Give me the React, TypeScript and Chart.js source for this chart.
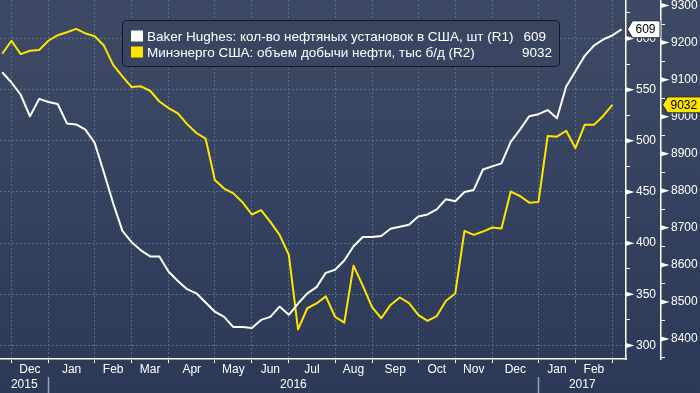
import React, { useEffect, useRef } from 'react';
import { Chart, registerables } from 'chart.js';

Chart.register(...registerables);

// Weekly data, index 0 = first week shown (late Nov 2015)
const rigCounts = [
  567, 557, 545, 524, 541, 538, 536, 517, 516, 511,
  498, 469, 439, 412, 401, 393, 387, 387, 372, 363,
  355, 351, 342, 333, 328, 318, 318, 317, 325, 328,
  338, 330, 341, 351, 357, 371, 374, 383, 397, 406,
  406, 407, 414, 416, 418, 426, 428, 433, 443, 441,
  450, 452, 472, 475, 478, 499, 511, 524, 526, 530,
  522, 553, 568, 583, 593, 599, 603, 609,
];

const oilOutput = [
  9170, 9205, 9169, 9178, 9180, 9205, 9220, 9228, 9237, 9225,
  9217, 9192, 9140, 9109, 9080, 9082, 9070, 9041, 9023, 9009,
  8980, 8956, 8941, 8829, 8806, 8793, 8769, 8736, 8748, 8716,
  8681, 8627, 8426, 8483, 8496, 8515, 8460, 8444, 8598, 8544,
  8486, 8456, 8492, 8512, 8497, 8465, 8449, 8462, 8503, 8523,
  8692, 8681, 8690, 8701, 8698, 8798, 8786, 8768, 8770, 8948,
  8946, 8962, 8915, 8978, 8978, 9002, 9032,
];

const monthBoundaries = [1, 5, 10, 14, 18, 23, 27, 31, 36, 40, 45, 49, 53, 58, 62, 66];
const monthLabels = ['Dec', 'Jan', 'Feb', 'Mar', 'Apr', 'May', 'Jun', 'Jul', 'Aug', 'Sep', 'Oct', 'Nov', 'Dec', 'Jan', 'Feb'];
const yearBoundaries = [5, 58];
const yearLabels = ['2015', '2016', '2017'];

const rigTickValues = [300, 350, 400, 450, 500, 550, 600];
const oilTickValues = [8400, 8500, 8600, 8700, 8800, 8900, 9000, 9100, 9200, 9300];

const seriesNames = [
  'Baker Hughes: кол-во нефтяных установок в США, шт (R1)',
  'Минэнерго США: объем добычи нефти, тыс б/д (R2)',
];

const X_MIN = -0.24;
const X_MAX = 67.47;
const R1_MIN = 286.8;
const R1_MAX = 637.6;
const R2_MIN = 8346;
const R2_MAX = 9315;

const WHITE = '#ffffff';
const YELLOW = '#ffe600';
const GRID = '#4f7186';
const FONT = "'Liberation Sans', Arial, sans-serif";
const CLEAR = 'rgba(0,0,0,0)';

const monthMids = monthBoundaries.slice(0, -1).map((b, i) => (b + monthBoundaries[i + 1]) / 2);
const yearEdges = [X_MIN, ...yearBoundaries, X_MAX];
const yearMids = yearLabels.map((_, i) => (yearEdges[i] + yearEdges[i + 1]) / 2);

const rigMinor = rigTickValues.map((v) => v + 25);
const oilMinor = [oilTickValues[0] - 50, ...oilTickValues.map((v) => v + 50)];

const zeroPad = (s: any) => {
  s.paddingLeft = 0;
  s.paddingRight = 0;
  s.paddingTop = 0;
  s.paddingBottom = 0;
};

const bgPlugin = {
  id: 'bgPlugin',
  beforeDraw(chart: any) {
    const { ctx, width, height } = chart;
    const g = ctx.createLinearGradient(0, 0, 0, height);
    g.addColorStop(0, '#3e4a65');
    g.addColorStop(0.5, '#35425f');
    g.addColorStop(1, '#2c3957');
    ctx.save();
    ctx.fillStyle = g;
    ctx.fillRect(0, 0, width, height);
    ctx.restore();
  },
};

const overlayPlugin = {
  id: 'overlayPlugin',
  afterDraw(chart: any) {
    const { ctx } = chart;
    const ys = chart.scales.y;
    const y2 = chart.scales.y2;
    ctx.save();
    // flags on axes
    ctx.fillStyle = WHITE;
    const flag = (x: number, y: number) => {
      ctx.beginPath();
      ctx.moveTo(x, y - 2.5);
      ctx.lineTo(x + 8.5, y);
      ctx.lineTo(x, y + 2.5);
      ctx.closePath();
      ctx.fill();
    };
    rigTickValues.forEach((v) => flag(ys.left, ys.getPixelForValue(v)));
    oilTickValues.forEach((v) => flag(y2.left, y2.getPixelForValue(v)));

    // legend box
    const lx = 122.5, ly = 20.5, lw = 437, lh = 46, r = 4;
    ctx.beginPath();
    ctx.moveTo(lx + r, ly);
    ctx.lineTo(lx + lw - r, ly);
    ctx.quadraticCurveTo(lx + lw, ly, lx + lw, ly + r);
    ctx.lineTo(lx + lw, ly + lh - r);
    ctx.quadraticCurveTo(lx + lw, ly + lh, lx + lw - r, ly + lh);
    ctx.lineTo(lx + r, ly + lh);
    ctx.quadraticCurveTo(lx, ly + lh, lx, ly + lh - r);
    ctx.lineTo(lx, ly + r);
    ctx.quadraticCurveTo(lx, ly, lx + r, ly);
    ctx.closePath();
    ctx.fillStyle = '#3a4661';
    ctx.fill();
    ctx.strokeStyle = '#121722';
    ctx.lineWidth = 1;
    ctx.stroke();

    const lastRig = rigCounts[rigCounts.length - 1];
    const lastOil = oilOutput[oilOutput.length - 1];
    const rows = [
      { color: WHITE, name: seriesNames[0], value: String(lastRig), y: 36.5, vx: 546 },
      { color: YELLOW, name: seriesNames[1], value: String(lastOil), y: 52.5, vx: 552 },
    ];
    ctx.font = `13.5px ${FONT}`;
    ctx.textBaseline = 'middle';
    rows.forEach((row) => {
      ctx.fillStyle = row.color;
      ctx.fillRect(131, row.y - 6, 12, 11);
      ctx.fillStyle = WHITE;
      ctx.textAlign = 'left';
      ctx.fillText(row.name, 147, row.y + 0.5);
      ctx.textAlign = 'right';
      ctx.fillText(row.value, row.vx, row.y + 0.5);
    });

    // last value badges
    const badge = (x: number, y: number, right: number, h: number, fill: string, text: string) => {
      ctx.beginPath();
      ctx.moveTo(x, y);
      ctx.lineTo(x + 5, y - h / 2);
      ctx.lineTo(right, y - h / 2);
      ctx.lineTo(right, y + h / 2);
      ctx.lineTo(x + 5, y + h / 2);
      ctx.closePath();
      ctx.fillStyle = fill;
      ctx.fill();
      ctx.strokeStyle = '#1b2233';
      ctx.lineWidth = 1;
      ctx.stroke();
      ctx.fillStyle = '#000000';
      ctx.font = `12px ${FONT}`;
      ctx.textAlign = 'left';
      ctx.textBaseline = 'middle';
      ctx.fillText(text, x + 8, y + 0.5);
    };
    badge(ys.left + 1.5, ys.getPixelForValue(lastRig), y2.left - 1, 17, WHITE, String(lastRig));
    badge(y2.left + 1.5, y2.getPixelForValue(lastOil), 702, 16, YELLOW, String(lastOil));
    ctx.restore();
  },
};

export default function App() {
  const ref = useRef<HTMLCanvasElement>(null);

  useEffect(() => {
    document.body.style.margin = '0';
    Chart.defaults.font.family = FONT;
    Chart.defaults.font.size = 12;
    Chart.defaults.color = WHITE;

    const chart = new Chart(ref.current as HTMLCanvasElement, {
      type: 'line',
      data: {
        datasets: [
          {
            label: seriesNames[0],
            data: rigCounts.map((v, i) => ({ x: i, y: v })),
            yAxisID: 'y',
            xAxisID: 'x',
            borderColor: WHITE,
            borderWidth: 2,
            pointRadius: 0,
            tension: 0,
            borderJoinStyle: 'round',
          },
          {
            label: seriesNames[1],
            data: oilOutput.map((v, i) => ({ x: i, y: v })),
            yAxisID: 'y2',
            xAxisID: 'x',
            borderColor: YELLOW,
            borderWidth: 2,
            pointRadius: 0,
            tension: 0,
            borderJoinStyle: 'round',
          },
        ],
      },
      options: {
        responsive: false,
        animation: false,
        devicePixelRatio: 1,
        layout: { padding: 0 },
        plugins: { legend: { display: false }, tooltip: { enabled: false } },
        scales: {
          x: {
            type: 'linear',
            position: 'bottom',
            min: X_MIN,
            max: X_MAX,
            afterBuildTicks: (s: any) => {
              s.ticks = [...monthBoundaries, ...monthMids]
                .sort((a, b) => a - b)
                .map((v) => ({ value: v }));
            },
            afterFit: (s: any) => {
              s.height = 18;
              zeroPad(s);
            },
            ticks: {
              autoSkip: false,
              maxRotation: 0,
              minRotation: 0,
              padding: -1,
              color: WHITE,
              font: { size: 12, family: FONT },
              callback: (value: any) => {
                const i = monthMids.indexOf(Number(value));
                return i >= 0 ? monthLabels[i] : '';
              },
            },
            grid: {
              color: (c: any) => (c.tick && monthBoundaries.includes(c.tick.value) ? GRID : CLEAR),
              tickColor: (c: any) => (c.tick && monthBoundaries.includes(c.tick.value) ? WHITE : CLEAR),
              tickLength: 4,
              tickWidth: 1,
              tickBorderDash: [],
              lineWidth: 1,
            },
            border: { display: true, color: WHITE, width: 1.5, dash: [2, 2] },
          },
          x2: {
            type: 'linear',
            position: 'bottom',
            min: X_MIN,
            max: X_MAX,
            afterBuildTicks: (s: any) => {
              s.ticks = [...yearBoundaries, ...yearMids]
                .sort((a, b) => a - b)
                .map((v) => ({ value: v }));
            },
            afterFit: (s: any) => {
              s.height = 16;
              zeroPad(s);
            },
            ticks: {
              autoSkip: false,
              maxRotation: 0,
              minRotation: 0,
              padding: -16,
              color: WHITE,
              font: { size: 12, family: FONT },
              callback: (value: any) => {
                const i = yearMids.indexOf(Number(value));
                return i >= 0 ? yearLabels[i] : '';
              },
            },
            grid: {
              drawOnChartArea: false,
              drawTicks: true,
              tickLength: 16,
              tickWidth: 1.5,
              tickColor: (c: any) => (c.tick && yearBoundaries.includes(c.tick.value) ? '#9aa1b0' : CLEAR),
            },
            border: { display: false },
          },
          y: {
            type: 'linear',
            position: 'right',
            min: R1_MIN,
            max: R1_MAX,
            afterBuildTicks: (s: any) => {
              s.ticks = [...rigTickValues, ...rigMinor]
                .filter((v) => v >= R1_MIN && v <= R1_MAX)
                .sort((a, b) => a - b)
                .map((v) => ({ value: v }));
            },
            afterFit: (s: any) => {
              s.width = 35;
              zeroPad(s);
            },
            ticks: {
              autoSkip: false,
              padding: 6,
              color: WHITE,
              font: { size: 12, family: FONT },
              callback: (value: any) => (rigTickValues.includes(Number(value)) ? String(value) : ''),
            },
            grid: {
              color: (c: any) => (c.tick && rigTickValues.includes(c.tick.value) ? GRID : CLEAR),
              tickColor: WHITE,
              tickLength: 4,
              tickWidth: 1,
              tickBorderDash: [],
              lineWidth: 1,
            },
            border: { display: true, color: WHITE, width: 1.5, dash: [2, 2] },
          },
          y2: {
            type: 'linear',
            position: 'right',
            min: R2_MIN,
            max: R2_MAX,
            afterBuildTicks: (s: any) => {
              s.ticks = [...oilTickValues, ...oilMinor]
                .filter((v) => v >= R2_MIN && v <= R2_MAX)
                .sort((a, b) => a - b)
                .map((v) => ({ value: v }));
            },
            afterFit: (s: any) => {
              s.width = 39;
              zeroPad(s);
            },
            ticks: {
              autoSkip: false,
              padding: 6,
              color: WHITE,
              font: { size: 12, family: FONT },
              callback: (value: any) => (oilTickValues.includes(Number(value)) ? String(value) : ''),
            },
            grid: {
              drawOnChartArea: false,
              tickColor: WHITE,
              tickLength: 4,
              tickWidth: 1,
              tickBorderDash: [],
            },
            border: { display: true, color: WHITE, width: 1.5 },
          },
        },
      },
      plugins: [bgPlugin, overlayPlugin],
    } as any);

    return () => chart.destroy();
  }, []);

  return (
    <div style={{ position: 'fixed', left: 0, top: 0, width: 700, height: 393, background: '#2c3957' }}>
      <canvas ref={ref} width={700} height={393} style={{ display: 'block', width: 700, height: 393 }} />
    </div>
  );
}
